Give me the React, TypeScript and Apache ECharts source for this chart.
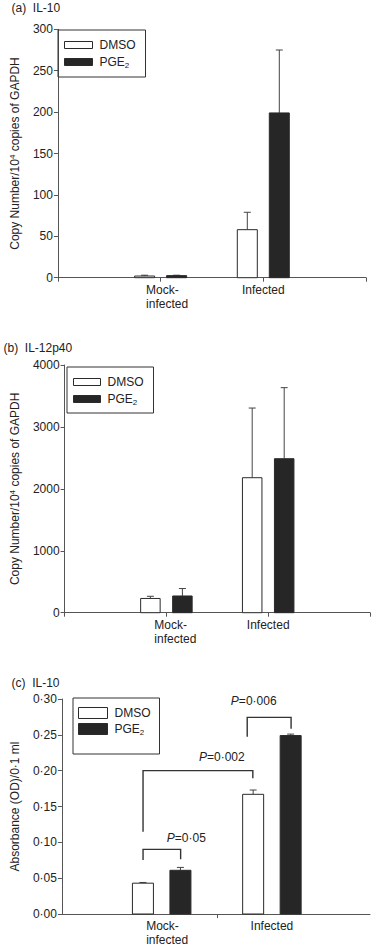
import React, { useEffect, useRef } from 'react';
import * as echarts from 'echarts';

// ---------- data ----------
const categories = ['Mock-\ninfected', 'Infected'];
const categoryPos = [1, 2];

// (a) IL-10 mRNA
const aTitle = '(a)  IL-10';
const aDmso = [2, 58];
const aDmsoErr = [1, 21];
const aPge2 = [2.5, 199];
const aPge2Err = [0.5, 76];
const aTicks = [0, 50, 100, 150, 200, 250, 300];

// (b) IL-12p40 mRNA
const bTitle = '(b)  IL-12p40';
const bDmso = [230, 2180];
const bDmsoErr = [35, 1125];
const bPge2 = [270, 2487];
const bPge2Err = [120, 1147];
const bTicks = [0, 1000, 2000, 3000, 4000];

// (c) IL-10 protein
const cTitle = '(c)  IL-10';
const cDmso = [0.043, 0.167];
const cDmsoErr = [0.001, 0.006];
const cPge2 = [0.061, 0.249];
const cPge2Err = [0.004, 0.002];
const cTicks = [0, 0.05, 0.1, 0.15, 0.2, 0.25, 0.3];

// significance brackets in (c)
const pLabels = ['0·05', '0·002', '0·006'];
const bracketLeftX = [0.831, 0.831, 1.776];
const bracketRightX = [1.172, 1.827, 2.174];
const bracketTopY = [0.0902, 0.2, 0.2744];
const bracketLeftEndY = [0.0753, 0.1149, 0.2474];
const bracketRightEndY = [0.0763, 0.1893, 0.2586];
const pLabelX = [1.224, 1.546, 1.835];
const pLabelY = [0.1065, 0.2186, 0.297];

// ---------- styles ----------
const FONT = '"Liberation Sans", Arial, Helvetica, sans-serif';
const TEXT = '#222';
const AXIS = '#555';
const EDGE = '#2a2a2a';
const DARK = '#262626';

function barSeries(name: string, g: number, values: number[], errs: number[], offset: number, width: number, fill: string) {
  return {
    type: 'custom',
    name,
    xAxisIndex: g,
    yAxisIndex: g,
    silent: true,
    itemStyle: { color: fill, borderColor: EDGE, borderWidth: 1 },
    encode: { x: 0, y: 1 },
    data: values.map((v, i) => [categoryPos[i], v, errs[i]]),
    renderItem: (_p: any, api: any) => {
      const x = api.value(0);
      const v = api.value(1);
      const e = api.value(2);
      const p0 = api.coord([x, 0]);
      const p1 = api.coord([x, v]);
      const p2 = api.coord([x, v + e]);
      const cx = p0[0] + offset;
      return {
        type: 'group',
        children: [
          { type: 'line', shape: { x1: cx, y1: p1[1], x2: cx, y2: p2[1] }, style: { stroke: '#444', lineWidth: 1 } },
          { type: 'line', shape: { x1: cx - 3.5, y1: p2[1], x2: cx + 3.5, y2: p2[1] }, style: { stroke: '#444', lineWidth: 1 } },
          {
            type: 'rect',
            shape: { x: cx - width / 2, y: p1[1], width, height: Math.max(p0[1] - p1[1], 1) },
            style: { fill, stroke: EDGE, lineWidth: 1 },
          },
        ],
      };
    },
  };
}

function xAxisFor(g: number, min: number, max: number, tickVals: number[], pad: number) {
  return {
    type: 'value',
    gridIndex: g,
    min,
    max,
    splitLine: { show: false },
    axisLine: { show: true, lineStyle: { color: AXIS, width: 1 } },
    axisTick: { show: true, length: 4, lineStyle: { color: AXIS }, customValues: tickVals },
    axisLabel: {
      show: true,
      customValues: categoryPos,
      margin: 5,
      color: TEXT,
      fontFamily: FONT,
      fontSize: 12,
      formatter: (v: number) => {
        const idx = categoryPos.indexOf(Math.round(v));
        if (idx < 0) return '';
        const lines = categories[idx].split('\n');
        if (lines.length === 1) return `{c|${lines[0]}}`;
        // first line padded on the right so both lines start at the same x
        return lines.map((l, i) => (i === 0 ? `{m|${l}}{g| }` : `{m|${l}}`)).join('\n');
      },
      rich: {
        m: { align: 'left', padding: [0, 0, 0, pad], fontSize: 12, lineHeight: 14, fontFamily: FONT, color: TEXT },
        g: { width: 9.4, fontSize: 12, lineHeight: 14, fontFamily: FONT, color: TEXT },
        c: { fontSize: 12, lineHeight: 14, fontFamily: FONT, color: TEXT },
      },
    },
  };
}

function yAxisFor(g: number, ticks: number[], name: string, nameGap: number, fmt: (v: number) => string) {
  return {
    type: 'value',
    gridIndex: g,
    min: ticks[0],
    max: ticks[ticks.length - 1],
    interval: ticks[1] - ticks[0],
    name,
    nameLocation: 'middle',
    nameGap,
    nameTextStyle: {
      fontFamily: FONT,
      fontSize: 12,
      color: TEXT,
      lineHeight: 14,
      rich: {
        sup: { fontSize: 8, lineHeight: 7, verticalAlign: 'top', fontFamily: FONT, color: TEXT },
      },
    },
    splitLine: { show: false },
    axisLine: { show: true, lineStyle: { color: AXIS, width: 1 } },
    axisTick: { show: true, length: 4, lineStyle: { color: AXIS } },
    axisLabel: { margin: 5, color: TEXT, fontFamily: FONT, fontSize: 12, formatter: fmt },
  };
}

function legendFor(left: number, top: number, padding: number[], iw: number, ih: number, gap: number) {
  return {
    orient: 'vertical',
    left,
    top,
    padding,
    itemWidth: iw,
    itemHeight: ih,
    itemGap: gap,
    icon: 'rect',
    selectedMode: false,
    borderColor: '#333',
    borderWidth: 1,
    data: [
      { name: 'DMSO', itemStyle: { color: '#fff', borderColor: EDGE, borderWidth: 1 } },
      { name: 'PGE2', itemStyle: { color: DARK, borderColor: EDGE, borderWidth: 1 } },
    ],
    formatter: (n: string) => (n === 'PGE2' ? '{n|PGE}{s|2}' : `{n|${n}}`),
    textStyle: {
      fontFamily: FONT,
      fontSize: 12,
      color: TEXT,
      lineHeight: 14,
      rich: {
        n: { fontFamily: FONT, fontSize: 12, color: TEXT, lineHeight: 14, padding: [0, 0, 0, 2] },
        s: { fontFamily: FONT, fontSize: 8, color: TEXT, lineHeight: 7, verticalAlign: 'bottom' },
      },
    },
  };
}

function titleFor(text: string, left: number, top: number) {
  return {
    text,
    left,
    top,
    padding: 0,
    textStyle: { fontFamily: FONT, fontSize: 12, fontWeight: 'normal', color: TEXT, lineHeight: 14 },
  };
}

export default function App() {
  const ref = useRef<HTMLDivElement>(null);

  useEffect(() => {
    if (!ref.current) return;
    const chart = echarts.init(ref.current, undefined, { renderer: 'svg' });

    const bracketSeries = {
      type: 'custom',
      name: 'significance',
      xAxisIndex: 2,
      yAxisIndex: 2,
      silent: true,
      encode: { x: 0, y: 1 },
      data: pLabels.map((_, i) => [bracketLeftX[i], bracketTopY[i]]),
      renderItem: (params: any, api: any) => {
        const i = params.dataIndex;
        const L = api.coord([bracketLeftX[i], bracketLeftEndY[i]]);
        const LT = api.coord([bracketLeftX[i], bracketTopY[i]]);
        const RT = api.coord([bracketRightX[i], bracketTopY[i]]);
        const R = api.coord([bracketRightX[i], bracketRightEndY[i]]);
        const T = api.coord([pLabelX[i], pLabelY[i]]);
        return {
          type: 'group',
          children: [
            {
              type: 'polyline',
              shape: { points: [L, LT, RT, R] },
              style: { stroke: '#333', lineWidth: 1.4, fill: 'none' },
            },
            {
              type: 'text',
              x: T[0],
              y: T[1],
              style: {
                text: `{i|P}{n|=${pLabels[i]}}`,
                align: 'center',
                verticalAlign: 'middle',
                fill: TEXT,
                fontFamily: FONT,
                fontSize: 12,
                rich: {
                  i: { fontStyle: 'italic', fontFamily: FONT, fontSize: 12, fill: TEXT, color: TEXT },
                  n: { fontFamily: FONT, fontSize: 12, fill: TEXT, color: TEXT },
                },
              },
            },
          ],
        };
      },
    };

    const option: any = {
      animation: false,
      backgroundColor: '#fff',
      title: [titleFor(aTitle, 11.5, 1), titleFor(bTitle, 3.5, 341), titleFor(cTitle, 11.5, 676)],
      legend: [
        legendFor(58, 30, [8, 10, 8, 6], 28, 7, 3),
        legendFor(67, 367, [8, 10, 7, 6], 27, 7, 3),
        legendFor(73, 698, [8, 9, 18, 5], 29, 11, 2),
      ],
      grid: [
        { left: 47, top: 29.3, width: 319, height: 248.4 },
        { left: 55.5, top: 365, width: 314.5, height: 247.7 },
        { left: 61, top: 699, width: 309, height: 215 },
      ],
      xAxis: [
        xAxisFor(0, 0, 3, [0, 1, 2, 3], 13),
        xAxisFor(1, 0, 3, [0, 1, 2, 3], 18),
        xAxisFor(2, 0.095, 2.89, [1.5], 11),
      ],
      yAxis: [
        yAxisFor(0, aTicks, 'Copy Number/10{sup|4} copies of GAPDH', 26.7, (v) => String(v)),
        yAxisFor(1, bTicks, 'Copy Number/10{sup|4} copies of GAPDH', 33, (v) => String(v)),
        yAxisFor(2, cTicks, 'Absorbance (OD)/0·1 ml', 38, (v) => v.toFixed(2).replace('.', '·')),
      ],
      series: [
        barSeries('DMSO', 0, aDmso, aDmsoErr, -16, 20, '#fff'),
        barSeries('PGE2', 0, aPge2, aPge2Err, 16, 20, DARK),
        barSeries('DMSO', 1, bDmso, bDmsoErr, -16, 19.5, '#fff'),
        barSeries('PGE2', 1, bPge2, bPge2Err, 16, 19.5, DARK),
        barSeries('DMSO', 2, cDmso, cDmsoErr, -18.75, 21, '#fff'),
        barSeries('PGE2', 2, cPge2, cPge2Err, 18.75, 21, DARK),
        bracketSeries,
      ],
    };

    chart.setOption(option);
    return () => chart.dispose();
  }, []);

  return (
    <div
      ref={ref}
      style={{ position: 'fixed', left: 0, top: 0, width: 375, height: 947, background: '#fff' }}
    />
  );
}
